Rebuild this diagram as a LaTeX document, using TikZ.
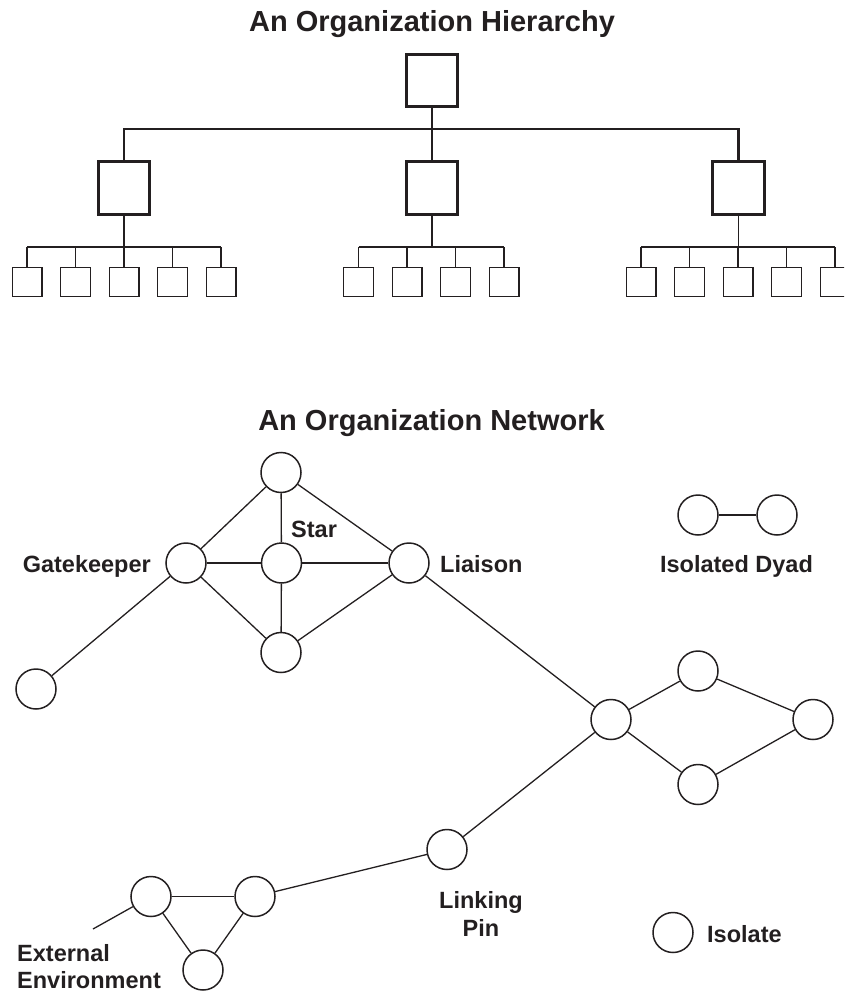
\documentclass[tikz,border=0pt]{standalone}
\usepackage{fontspec}
\setmainfont{Liberation Sans}
\definecolor{ink}{HTML}{231F20}
\begin{document}
\begin{tikzpicture}[x=1pt,y=-1pt,
  boss/.style={draw=ink, line width=2.6pt, minimum width=51.5pt, minimum height=52.5pt, inner sep=0pt, outer sep=0pt},
  worker/.style={draw=ink, line width=1.4pt, minimum width=29.6pt, minimum height=28.6pt, inner sep=0pt, outer sep=0pt},
  thickline/.style={draw=ink, line width=2.4pt},
  thinline/.style={draw=ink, line width=1.3pt},
  actor/.style={circle, draw=ink, line width=1.5pt, minimum size=40pt, inner sep=0pt},
  tie/.style={draw=ink, line width=1.3pt},
  lbl/.style={font=\fontsize{23.5}{28}\selectfont\bfseries, text=ink, inner sep=0pt},
  ttl/.style={font=\fontsize{29}{34}\selectfont\bfseries, text=ink, inner sep=0pt}]
\useasboundingbox (0,0) rectangle (844,992);
\clip (0,0) rectangle (844,992);

% ---------- Hierarchy ----------
\node[ttl, anchor=base] (t1) at (432,32) {An Organization Hierarchy};
\node[boss] (top) at (432,80.5) {};
\node[boss] (m1) at (124,188) {};
\node[boss] (m2) at (432,188) {};
\node[boss] (m3) at (738.5,188) {};
\coordinate (bar) at (432,129);
\draw[thickline] (top.south) -- (m2.north);
\draw[thickline, line join=miter] (m1.north) -- (m1.north |- bar) -- (m3.north |- bar) -- (m3.north);

\coordinate (sb) at (0,247);
\foreach \x [count=\i] in {27,75.5,124,172.5,221} {
  \node[worker] (a\i) at (\x,282) {};
  \draw[thinline] (a\i.north) -- (a\i.north |- sb);
}
\foreach \x [count=\i] in {358.5,407,455.5,504} {
  \node[worker] (b\i) at (\x,282) {};
  \draw[thinline] (b\i.north) -- (b\i.north |- sb);
}
\foreach \x [count=\i] in {641,689.5,738,786.5,835} {
  \node[worker] (c\i) at (\x,282) {};
  \draw[thinline] (c\i.north) -- (c\i.north |- sb);
}
\draw[thinline] (a1.north |- sb) -- (a5.north |- sb);
\draw[thinline] (b1.north |- sb) -- (b4.north |- sb);
\draw[thinline] (c1.north |- sb) -- (c5.north |- sb);
\draw[thinline] (m1.south) -- (m1.south |- sb);
\draw[thinline] (m2.south) -- (m2.south |- sb);
\draw[thinline] (m3.south) -- (m3.south |- sb);

% ---------- Network ----------
\node[ttl, anchor=base] (t2) at (431.5,430) {An Organization Network};

\node[actor] (ntop) at (281,472.5) {};
\node[actor] (gk) at (186,563) {};
\node[actor] (star) at (281.5,563) {};
\node[actor] (li) at (409,563) {};
\node[actor] (nbot) at (281,652.5) {};
\node[actor] (lone) at (36,689) {};
\node[actor] (dy1) at (698,515) {};
\node[actor] (dy2) at (777,515) {};
\node[actor] (dl) at (611,719.5) {};
\node[actor] (du) at (698,671) {};
\node[actor] (dr) at (813,719.5) {};
\node[actor] (dd) at (698,784.5) {};
\node[actor] (lp) at (447,849.5) {};
\node[actor] (tl) at (151,896.5) {};
\node[actor] (tr) at (255,896.5) {};
\node[actor] (tb) at (203,970) {};
\node[actor] (iso) at (673,932.5) {};
\coordinate (ext) at (93,929);

\draw[tie] (ntop) -- (gk);
\draw[tie] (ntop) -- (star);
\draw[tie] (ntop) -- (li);
\draw[tie] (gk) -- (star);
\draw[tie] (star) -- (li);
\draw[tie] (gk) -- (nbot);
\draw[tie] (star) -- (nbot);
\draw[tie] (li) -- (nbot);
\draw[tie] (gk) -- (lone);
\draw[tie] (li) -- (dl);
\draw[tie] (dl) -- (du);
\draw[tie] (du) -- (dr);
\draw[tie] (dr) -- (dd);
\draw[tie] (dd) -- (dl);
\draw[tie] (dl) -- (lp);
\draw[tie] (lp) -- (tr);
\draw[tie] (tl) -- (tr);
\draw[tie] (tl) -- (tb);
\draw[tie] (tr) -- (tb);
\draw[tie] (ext) -- (tl);
\draw[tie] (dy1) -- (dy2);

\node[lbl, anchor=base west] (lstar) at (291,537) {Star};
\node[lbl, anchor=base east] (lgk) at (151,572) {Gatekeeper};
\node[lbl, anchor=base west] (lli) at (440,572) {Liaison};
\node[lbl, anchor=base] (ldy) at (736.5,572) {Isolated Dyad};
\node[lbl, anchor=north, align=center] (llp) at (481,891.7) {Linking\\Pin};
\node[lbl, anchor=base west] (liso) at (707,942.7) {Isolate};
\node[lbl, anchor=base west] (lext1) at (17,961) {External};
\node[lbl, anchor=base west] (lext2) at (17,988.5) {Environment};
\end{tikzpicture}
\end{document}
